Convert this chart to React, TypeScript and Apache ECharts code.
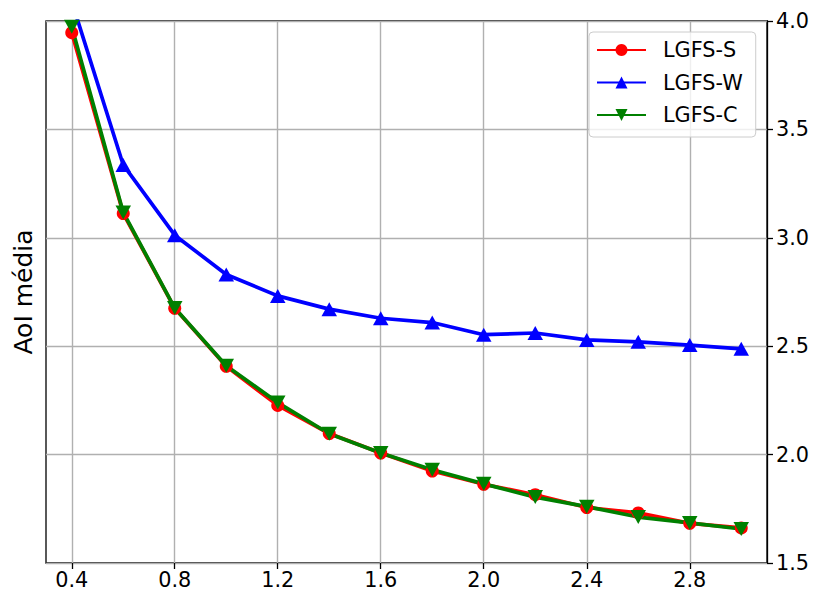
import React, { useEffect, useRef } from "react";
import * as echarts from "echarts";

const xValues = [0.4, 0.6, 0.8, 1.0, 1.2, 1.4, 1.6, 1.8, 2.0, 2.2, 2.4, 2.6, 2.8, 3.0];
const lgfsS = [3.946, 3.112, 2.675, 2.407, 2.227, 2.097, 2.007, 1.924, 1.863, 1.815, 1.756, 1.731, 1.683, 1.662];
const lgfsW = [4.09, 3.336, 3.012, 2.831, 2.732, 2.671, 2.629, 2.609, 2.553, 2.561, 2.529, 2.52, 2.505, 2.488];
const lgfsC = [3.974, 3.117, 2.676, 2.41, 2.24, 2.096, 2.007, 1.93, 1.865, 1.804, 1.76, 1.712, 1.685, 1.657];
const xTicks = [0.4, 0.8, 1.2, 1.6, 2.0, 2.4, 2.8];
const seriesNames = ["LGFS-S", "LGFS-W", "LGFS-C"];
const yLabel = "AoI média";

const FONT = "DejaVu Sans";

export default function App() {
  const ref = useRef<HTMLDivElement>(null);
  useEffect(() => {
    if (!ref.current) return;
    const chart = echarts.init(ref.current, null, { renderer: "svg" });
    const pair = (ys: number[]) => xValues.map((x, i) => [x, ys[i]]);
    const mk = (name: string, ys: number[], color: string, symbol: string, rot: number, size: any) => ({
      name,
      type: "line",
      data: pair(ys),
      yAxisIndex: 0,
      symbol,
      symbolSize: size,
      symbolRotate: rot,
      showAllSymbol: true,
      clip: true,
      lineStyle: { color, width: 3.7 },
      itemStyle: { color, borderWidth: 0 },
      emphasis: { disabled: true },
    });
    chart.setOption({
      animation: false,
      textStyle: { fontFamily: FONT },
      grid: {
        left: 46,
        top: 21,
        right: 50,
        bottom: 33,
        show: true,
        borderColor: "#000",
        borderWidth: 1.3,
        backgroundColor: "transparent",
      },
      legend: {
        orient: "vertical",
        left: 589,
        top: 32,
        data: seriesNames,
        itemWidth: 49,
        itemHeight: 15,
        itemGap: 8.5,
        padding: [6, 13, 10, 7],
        backgroundColor: "rgba(255,255,255,0.8)",
        borderColor: "#cccccc",
        borderWidth: 1,
        borderRadius: 4,
        textStyle: { fontFamily: FONT, fontSize: 20.8, color: "#000", lineHeight: 24, padding: [0, 0, 0, 12] },
      },
      xAxis: {
        type: "value",
        min: 0.3,
        max: 3.1,
        axisLine: { show: false },
        axisTick: {
          show: true,
          customValues: xTicks,
          length: 6,
          inside: false,
          lineStyle: { color: "#000", width: 1.3 },
        },
        axisLabel: {
          customValues: xTicks,
          formatter: (v: number) => v.toFixed(1),
          fontFamily: FONT,
          fontSize: 20.8,
          color: "#000",
          margin: 6,
        },
        splitLine: { show: true, lineStyle: { color: "#b0b0b0", width: 1.4 } },
      },
      yAxis: [
        {
          type: "value",
          position: "right",
          min: 1.5,
          max: 4.0,
          interval: 0.5,
          axisLine: { show: true, lineStyle: { color: "#000", width: 1.3 } },
          axisTick: { show: true, length: 6, inside: false, lineStyle: { color: "#000", width: 1.3 } },
          axisLabel: {
            formatter: (v: number) => v.toFixed(1),
            fontFamily: FONT,
            fontSize: 20.8,
            color: "#000",
            margin: 9,
          },
          splitLine: { show: true, lineStyle: { color: "#b0b0b0", width: 1.4 } },
        },
        {
          type: "value",
          position: "left",
          min: 1.5,
          max: 4.0,
          interval: 0.5,
          name: yLabel,
          nameLocation: "middle",
          nameGap: 10,
          nameRotate: 90,
          nameTextStyle: { fontFamily: FONT, fontSize: 25, color: "#000" },
          axisLine: { show: false },
          axisTick: { show: false },
          axisLabel: { show: false },
          splitLine: { show: false },
        },
      ],
      series: [
        mk(seriesNames[0], lgfsS, "#ff0000", "circle", 0, 13),
        mk(seriesNames[1], lgfsW, "#0000ff", "triangle", 0, [15.5, 14]),
        mk(seriesNames[2], lgfsC, "#008000", "triangle", 180, [15.5, 14]),
      ],
    });
    return () => chart.dispose();
  }, []);
  return <div ref={ref} style={{ width: 817, height: 596, margin: -8 }} />;
}
